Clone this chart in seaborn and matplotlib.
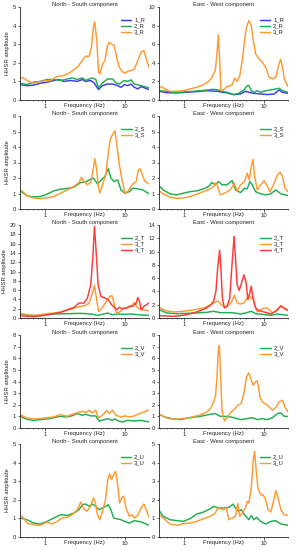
import matplotlib
matplotlib.use("Agg")
import matplotlib.pyplot as plt
import matplotlib.ticker as mticker
import seaborn as sns

# ---- Radial (R) ----
ns_r1_f = [0.483, 0.586, 0.712, 0.864, 1.05, 1.275, 1.475, 1.707, 2.073, 2.517, 2.912, 3.209, 3.712, 4.091, 4.642, 5.216, 6.033, 6.981, 8.076, 8.898, 9.809, 10.81, 11.91, 13.13, 14.47, 15.94, 17.57, 20.0]
ns_r1_a = [0.83, 0.77, 0.8, 0.9, 0.96, 1.05, 1.1, 1.0, 1.05, 1.0, 1.1, 1.0, 1.05, 0.92, 0.56, 0.77, 0.86, 0.86, 0.77, 0.68, 0.83, 0.77, 0.86, 0.68, 0.6, 0.72, 0.65, 0.56]
ns_r2_f = [0.483, 0.586, 0.712, 0.864, 1.05, 1.275, 1.549, 1.881, 2.176, 2.517, 2.912, 3.209, 3.537, 3.897, 4.295, 4.642, 5.216, 6.033, 6.981, 7.692, 8.477, 9.809, 10.81, 11.91, 13.13, 14.47, 15.94, 17.57, 20.0]
ns_r2_a = [0.9, 0.83, 0.96, 1.0, 1.1, 1.1, 1.05, 1.13, 1.19, 1.1, 1.19, 1.05, 1.13, 1.19, 1.1, 0.65, 0.92, 1.13, 1.13, 0.92, 0.86, 1.05, 1.0, 1.08, 0.86, 0.81, 0.77, 0.72, 0.65]
ns_r3_f = [0.483, 0.532, 0.586, 0.712, 0.864, 1.157, 1.405, 1.707, 2.073, 2.517, 2.912, 3.209, 3.537, 3.785, 4.012, 4.172, 4.422, 4.642, 4.825, 5.216, 5.583, 6.033, 6.334, 6.981, 7.328, 7.920, 8.477, 9.343, 10.0, 10.81, 11.91, 13.13, 14.47, 15.94, 17.23, 18.45, 20.0]
ns_r3_a = [1.19, 1.2, 1.05, 0.9, 1.0, 1.05, 1.26, 1.31, 1.5, 1.76, 2.12, 2.36, 2.34, 2.84, 3.92, 4.2, 3.2, 1.5, 1.4, 1.94, 2.12, 2.93, 3.1, 2.97, 2.93, 2.21, 1.76, 1.5, 1.44, 1.55, 1.58, 1.67, 2.12, 2.57, 2.66, 2.21, 1.76]

ew_r1_f = [0.483, 0.598, 0.800, 1.070, 1.433, 1.918, 2.566, 3.435, 4.172, 5.066, 5.861, 6.459, 7.471, 9.074, 11.02, 13.39, 15.48, 17.07, 20.0]
ew_r1_a = [0.94, 0.79, 0.76, 0.83, 0.9, 1.0, 0.94, 0.76, 0.58, 0.65, 0.94, 0.83, 0.72, 0.65, 0.58, 0.65, 1.08, 0.83, 0.72]
ew_r2_f = [0.483, 0.598, 0.726, 0.882, 1.070, 1.300, 1.579, 1.918, 2.328, 2.694, 2.969, 3.435, 4.172, 4.825, 5.583, 6.152, 6.459, 6.914, 7.471, 8.234, 9.074, 10.50, 12.15, 14.05, 15.48, 17.07, 20.0]
ew_r2_a = [1.0, 0.94, 0.83, 0.83, 0.9, 0.94, 1.0, 1.08, 1.15, 1.08, 0.94, 0.83, 0.58, 0.72, 1.08, 1.55, 1.55, 1.0, 0.83, 1.0, 0.83, 1.0, 1.08, 1.19, 1.26, 1.0, 0.83]
ew_r3_f = [0.483, 0.516, 0.569, 0.659, 0.800, 0.971, 1.180, 1.433, 1.740, 2.013, 2.218, 2.444, 2.566, 2.668, 2.774, 2.884, 3.057, 3.435, 3.973, 4.295, 4.597, 4.969, 5.318, 5.693, 6.033, 6.459, 6.914, 7.328, 7.844, 8.644, 9.526, 10.50, 11.57, 12.75, 14.05, 15.04, 16.10, 17.07, 17.92, 20.0]
ew_r3_a = [1.3, 1.44, 1.19, 0.94, 0.94, 1.0, 1.19, 1.37, 1.65, 1.98, 2.45, 3.17, 4.96, 7.0, 4.27, 1.0, 1.08, 1.44, 1.62, 2.37, 2.01, 2.63, 4.24, 6.4, 7.84, 8.55, 8.0, 6.4, 4.96, 4.42, 4.06, 3.52, 2.45, 2.27, 2.45, 3.52, 4.4, 3.52, 2.27, 1.44]

# ---- S ----
ns_s2_f = [0.483, 0.586, 0.712, 0.864, 1.05, 1.275, 1.549, 1.881, 2.284, 2.774, 3.209, 3.712, 4.012, 4.508, 4.969, 5.583, 6.152, 6.650, 7.328, 8.076, 8.898, 10.0, 11.35, 12.50, 14.47, 16.73, 20.0]
ns_s2_a = [1.19, 0.85, 0.78, 0.8, 0.96, 1.17, 1.28, 1.32, 1.41, 1.71, 1.75, 1.93, 1.99, 1.62, 1.84, 2.1, 2.6, 1.99, 1.77, 1.88, 1.23, 1.02, 1.12, 1.34, 1.3, 1.23, 0.98]
ns_s3_f = [0.483, 0.532, 0.586, 0.712, 0.864, 1.05, 1.275, 1.549, 1.881, 2.284, 2.642, 2.828, 3.057, 3.369, 3.712, 4.012, 4.172, 4.379, 4.597, 4.825, 5.216, 5.746, 6.152, 6.521, 6.981, 7.471, 7.920, 8.477, 9.074, 10.0, 10.81, 12.50, 13.78, 14.75, 15.64, 16.73, 17.92, 20.0]
ns_s3_a = [1.23, 1.08, 0.85, 0.71, 0.67, 0.72, 0.8, 1.02, 1.23, 1.45, 1.71, 2.05, 1.77, 1.56, 1.71, 2.64, 3.25, 2.64, 1.56, 1.02, 1.56, 2.21, 3.61, 4.48, 4.8, 5.05, 4.05, 2.86, 1.99, 1.02, 1.12, 1.62, 1.77, 2.53, 2.58, 2.1, 1.77, 1.62]

ew_s2_f = [0.483, 0.542, 0.659, 0.800, 0.971, 1.180, 1.433, 1.740, 2.013, 2.218, 2.444, 2.694, 2.969, 3.435, 3.973, 4.379, 5.066, 5.693, 6.152, 6.650, 7.117, 7.844, 9.074, 10.50, 12.15, 14.05, 16.26, 20.0]
ew_s2_a = [1.49, 1.23, 0.98, 0.91, 1.02, 1.12, 1.17, 1.3, 1.45, 1.71, 1.56, 1.77, 1.56, 1.56, 1.84, 1.23, 1.06, 1.34, 1.3, 1.77, 1.56, 1.12, 0.98, 0.91, 0.98, 1.23, 0.98, 0.87]
ew_s3_f = [0.483, 0.542, 0.659, 0.800, 0.971, 1.180, 1.433, 1.740, 2.113, 2.328, 2.517, 2.828, 3.272, 3.785, 4.253, 4.597, 5.066, 5.693, 6.152, 6.521, 6.914, 7.258, 7.618, 8.234, 9.074, 10.0, 10.81, 11.91, 13.13, 14.75, 15.94, 17.07, 18.27, 20.0]
ew_s3_a = [1.17, 0.98, 0.76, 0.69, 0.71, 0.8, 0.96, 1.12, 1.3, 1.45, 1.71, 0.91, 1.05, 1.25, 1.66, 1.15, 1.56, 1.77, 2.32, 1.88, 2.75, 3.2, 2.1, 1.23, 1.56, 1.82, 1.56, 1.12, 1.56, 2.21, 2.38, 2.1, 1.34, 1.12]

# ---- T ----
ns_t2_f = [0.483, 0.646, 0.864, 1.275, 1.881, 2.774, 3.712, 4.508, 4.969, 6.033, 6.981, 8.076, 9.809, 11.91, 14.47, 20.0]
ns_t2_a = [0.93, 0.57, 0.57, 0.86, 0.93, 1.0, 0.86, 0.57, 0.71, 1.07, 0.71, 0.86, 0.79, 0.86, 0.71, 0.57]
ns_t3_f = [0.483, 0.586, 0.712, 0.864, 1.05, 1.275, 1.549, 1.881, 2.284, 2.774, 3.209, 3.537, 3.897, 4.131, 4.379, 4.642, 4.969, 5.476, 6.033, 6.521, 6.846, 7.187, 7.692, 8.234, 8.898, 9.809, 10.81, 11.91, 13.13, 14.47, 15.94, 20.0]
ns_t3_a = [1.07, 0.57, 0.57, 0.71, 0.93, 1.07, 1.29, 1.64, 2.14, 2.5, 2.71, 3.21, 5.36, 7.0, 4.29, 1.43, 1.79, 2.86, 4.0, 4.7, 4.8, 3.57, 1.29, 1.07, 1.57, 2.14, 2.14, 2.64, 3.3, 2.2, 1.79, 1.57]
ns_t4_f = [0.483, 0.586, 0.712, 0.864, 1.05, 1.275, 1.549, 1.881, 2.284, 2.642, 3.057, 3.369, 3.712, 3.935, 4.131, 4.337, 4.597, 4.969, 5.583, 6.152, 6.780, 7.328, 7.920, 8.477, 9.343, 10.30, 11.35, 12.50, 13.78, 14.47, 15.19, 15.94, 17.23, 20.0]
ns_t4_a = [0.5, 0.36, 0.29, 0.43, 0.71, 0.93, 1.21, 1.79, 2.29, 3.21, 3.21, 4.29, 7.14, 12.86, 19.7, 14.3, 7.14, 4.64, 4.29, 3.93, 2.86, 2.29, 1.79, 2.29, 2.0, 2.14, 2.5, 2.5, 3.21, 4.43, 3.57, 1.79, 2.5, 3.21]

ew_t2_f = [0.483, 0.598, 0.800, 1.070, 1.433, 1.918, 2.328, 2.828, 3.606, 4.253, 5.066, 5.861, 6.914, 7.844, 9.526, 12.15, 14.75, 17.07, 20.0]
ew_t2_a = [1.26, 0.76, 0.65, 0.7, 0.76, 0.86, 1.01, 0.81, 0.81, 0.76, 0.6, 0.76, 1.01, 0.65, 0.55, 0.4, 0.6, 0.5, 0.4]
ew_t3_f = [0.483, 0.569, 0.726, 0.971, 1.300, 1.740, 2.113, 2.444, 2.694, 2.884, 3.272, 3.606, 3.973, 4.253, 4.597, 5.066, 5.583, 6.152, 6.459, 6.914, 7.328, 7.618, 8.234, 9.526, 11.02, 12.75, 14.75, 16.26, 17.92, 20.0]
ew_t3_a = [1.61, 1.11, 0.91, 1.01, 1.21, 1.51, 1.91, 2.42, 2.52, 2.01, 1.61, 1.91, 2.62, 3.4, 2.27, 2.11, 2.27, 3.02, 3.37, 2.92, 3.2, 2.01, 0.91, 1.41, 1.51, 0.76, 1.26, 1.91, 1.41, 1.11]
ew_t4_f = [0.483, 0.598, 0.726, 0.882, 1.070, 1.300, 1.579, 1.826, 2.113, 2.328, 2.492, 2.616, 2.774, 2.884, 2.998, 3.178, 3.435, 3.712, 3.935, 4.212, 4.379, 4.597, 4.873, 5.216, 5.583, 5.916, 6.273, 6.650, 6.914, 7.258, 7.844, 8.644, 10.0, 12.15, 14.05, 16.26, 17.92, 20.0]
ew_t4_a = [0.35, 0.3, 0.25, 0.35, 0.5, 0.76, 1.11, 1.41, 1.91, 2.52, 4.03, 7.55, 10.2, 7.05, 3.02, 1.51, 1.76, 3.02, 7.55, 12.3, 9.06, 5.04, 4.13, 5.29, 6.5, 5.54, 2.77, 3.78, 4.8, 3.02, 1.51, 1.11, 0.91, 0.6, 1.01, 1.76, 1.51, 1.16]

# ---- V ----
ns_v2_f = [0.483, 0.586, 0.712, 0.864, 1.05, 1.275, 1.549, 1.881, 2.176, 2.517, 2.912, 3.209, 3.712, 4.295, 4.732, 5.476, 6.152, 6.780, 7.471, 8.234, 9.343, 10.81, 13.13, 15.94, 20.0]
ns_v2_a = [1.0, 0.75, 0.66, 0.72, 0.78, 0.89, 1.0, 0.95, 1.06, 1.24, 1.09, 1.18, 1.04, 1.04, 0.6, 0.72, 0.81, 0.66, 0.78, 0.6, 0.52, 0.66, 0.6, 0.66, 0.52]
ns_v3_f = [0.483, 0.532, 0.586, 0.712, 0.864, 1.05, 1.275, 1.549, 1.881, 2.176, 2.517, 2.912, 3.209, 3.537, 3.897, 4.295, 4.597, 4.969, 5.476, 5.916, 6.334, 6.981, 7.692, 8.898, 10.0, 11.35, 13.13, 15.19, 17.57, 20.0]
ns_v3_a = [1.15, 1.0, 0.86, 0.78, 0.81, 0.89, 0.95, 1.15, 1.0, 1.18, 1.32, 1.44, 1.32, 1.53, 1.29, 1.53, 0.89, 1.0, 1.24, 1.53, 1.24, 1.53, 1.09, 0.95, 1.04, 0.95, 1.04, 1.24, 1.38, 1.58]

ew_v2_f = [0.483, 0.569, 0.691, 0.882, 1.180, 1.579, 2.113, 2.444, 2.828, 3.435, 4.172, 5.066, 6.152, 7.117, 8.234, 9.526, 11.02, 12.75, 14.75, 16.26, 17.92, 20.0]
ew_v2_a = [1.18, 0.95, 0.81, 0.72, 0.89, 1.0, 1.18, 1.24, 1.0, 1.0, 0.89, 0.72, 0.81, 0.89, 0.72, 0.81, 0.72, 0.89, 1.24, 1.29, 1.0, 1.0]
ew_v3_f = [0.483, 0.542, 0.627, 0.800, 1.070, 1.365, 1.658, 1.918, 2.154, 2.328, 2.468, 2.566, 2.668, 2.747, 2.828, 2.969, 3.178, 3.435, 3.859, 4.253, 4.687, 5.166, 5.583, 6.033, 6.396, 6.914, 7.328, 7.844, 8.234, 8.898, 9.526, 11.02, 12.75, 14.05, 15.48, 17.07, 18.27, 20.0]
ew_v3_a = [1.18, 1.0, 0.81, 0.75, 0.86, 1.0, 1.18, 1.38, 1.73, 2.24, 2.82, 4.4, 6.7, 7.1, 4.98, 1.53, 0.6, 0.89, 1.38, 1.61, 1.96, 2.1, 2.96, 4.4, 4.75, 4.12, 3.68, 3.97, 4.06, 2.68, 2.24, 1.96, 1.53, 1.76, 2.24, 2.39, 1.81, 1.38]

# ---- U ----
ns_u2_f = [0.483, 0.586, 0.712, 0.864, 1.05, 1.275, 1.549, 1.881, 2.284, 2.642, 2.912, 3.209, 3.537, 3.897, 4.295, 4.732, 5.216, 5.746, 6.152, 6.650, 7.187, 8.076, 8.898, 9.809, 11.35, 13.13, 15.94, 20.0]
ns_u2_a = [1.02, 0.93, 0.75, 0.7, 0.84, 1.02, 1.2, 1.16, 1.29, 1.47, 1.74, 1.77, 1.65, 1.77, 1.65, 1.47, 1.56, 1.65, 1.74, 1.47, 1.02, 0.97, 0.93, 0.84, 0.75, 0.88, 0.81, 0.63]
ns_u3_f = [0.483, 0.532, 0.586, 0.712, 0.864, 1.05, 1.21, 1.405, 1.626, 1.881, 2.176, 2.517, 2.774, 2.998, 3.304, 3.641, 4.012, 4.253, 4.508, 4.825, 5.216, 5.638, 6.033, 6.396, 6.780, 7.187, 7.618, 8.076, 8.560, 9.163, 9.619, 10.30, 11.35, 12.15, 13.13, 14.47, 15.94, 17.23, 18.45, 20.0]
ns_u3_a = [1.16, 1.02, 0.75, 0.66, 0.63, 0.81, 0.7, 0.84, 1.02, 1.06, 1.2, 1.47, 1.88, 1.56, 1.38, 1.59, 2.1, 1.83, 1.2, 0.93, 1.38, 1.92, 2.99, 3.4, 3.08, 3.35, 3.53, 2.81, 1.83, 2.13, 2.19, 1.56, 1.11, 1.2, 1.02, 1.16, 1.56, 1.77, 1.47, 1.06]

ew_u2_f = [0.483, 0.542, 0.659, 0.800, 0.971, 1.180, 1.433, 1.740, 2.113, 2.328, 2.694, 3.117, 3.606, 4.091, 4.379, 4.825, 5.166, 5.693, 6.459, 6.914, 7.471, 8.076, 9.074, 10.50, 12.15, 14.05, 16.26, 20.0]
ew_u2_a = [1.42, 1.11, 0.93, 0.88, 0.84, 0.99, 1.24, 1.34, 1.52, 1.65, 1.56, 1.56, 1.59, 1.77, 1.56, 1.38, 1.47, 1.2, 0.93, 1.16, 0.93, 1.06, 0.84, 0.7, 0.84, 0.88, 0.7, 0.63]
ew_u3_f = [0.483, 0.542, 0.659, 0.800, 0.971, 1.180, 1.433, 1.740, 2.113, 2.444, 2.616, 2.828, 3.117, 3.369, 3.606, 3.973, 4.379, 4.687, 4.969, 5.318, 5.861, 6.152, 6.459, 6.914, 7.328, 7.618, 7.999, 8.396, 9.074, 9.809, 10.50, 11.24, 12.15, 13.13, 14.05, 15.04, 16.26, 17.92, 20.0]
ew_u3_a = [1.2, 1.02, 0.7, 0.63, 0.72, 0.75, 0.84, 0.99, 1.11, 1.29, 1.56, 1.52, 1.47, 1.56, 0.93, 1.02, 1.11, 1.8, 1.11, 1.29, 1.56, 1.92, 1.83, 2.63, 4.16, 4.6, 3.51, 2.63, 2.28, 2.24, 2.01, 1.47, 1.34, 1.92, 2.5, 2.1, 1.47, 1.2, 1.16]

BLUE = '#3a3af2'
GREEN = '#1fae50'
ORANGE = '#ff9a30'
RED = '#ff3838'

# (title, ymax, ystep, [(label, freqs, amps, color), ...])
panels = [
    [("North - South component", 5, 1, [("1_R", ns_r1_f, ns_r1_a, BLUE), ("2_R", ns_r2_f, ns_r2_a, GREEN), ("3_R", ns_r3_f, ns_r3_a, ORANGE)]),
     ("East - West component", 10, 2, [("1_R", ew_r1_f, ew_r1_a, BLUE), ("2_R", ew_r2_f, ew_r2_a, GREEN), ("3_R", ew_r3_f, ew_r3_a, ORANGE)])],
    [("North - South component", 6, 1, [("2_S", ns_s2_f, ns_s2_a, GREEN), ("3_S", ns_s3_f, ns_s3_a, ORANGE)]),
     ("East - West component", 6, 1, [("2_S", ew_s2_f, ew_s2_a, GREEN), ("3_S", ew_s3_f, ew_s3_a, ORANGE)])],
    [("North - South component", 20, 2, [("2_T", ns_t2_f, ns_t2_a, GREEN), ("3_T", ns_t3_f, ns_t3_a, ORANGE), ("4_T", ns_t4_f, ns_t4_a, RED)]),
     ("East - West component", 14, 2, [("2_T", ew_t2_f, ew_t2_a, GREEN), ("3_T", ew_t3_f, ew_t3_a, ORANGE), ("4_T", ew_t4_f, ew_t4_a, RED)])],
    [("North - South component", 8, 1, [("2_V", ns_v2_f, ns_v2_a, GREEN), ("3_V", ns_v3_f, ns_v3_a, ORANGE)]),
     ("East - West component", 8, 1, [("2_V", ew_v2_f, ew_v2_a, GREEN), ("3_V", ew_v3_f, ew_v3_a, ORANGE)])],
    [("North - South component", 5, 1, [("2_U", ns_u2_f, ns_u2_a, GREEN), ("3_U", ns_u3_f, ns_u3_a, ORANGE)]),
     ("East - West component", 5, 1, [("2_U", ew_u2_f, ew_u2_a, GREEN), ("3_U", ew_u3_f, ew_u3_a, ORANGE)])],
]

sns.set_style("ticks")
plt.rcParams['font.family'] = ['Liberation Sans', 'DejaVu Sans']
FS = 4.2

fig = plt.figure(figsize=(2.96, 5.5), dpi=100)
row_tops = [7, 116, 225, 335, 444]
col_lefts = [20, 159]
ax_w, ax_h = 129, 93

for r, row in enumerate(panels):
    for c, (title, ymax, ystep, curves) in enumerate(row):
        ax = fig.add_axes([col_lefts[c] / 296, 1 - (row_tops[r] + ax_h) / 550, ax_w / 296, ax_h / 550])
        for label, f, a, color in curves:
            sns.lineplot(x=f, y=a, ax=ax, color=color, lw=1.05, label=label, sort=False)
        ax.set_xscale('log')
        ax.set_xlim(0.48, 20)
        ax.set_ylim(0, ymax)
        ax.yaxis.set_major_locator(mticker.MultipleLocator(ystep))
        ax.xaxis.set_major_locator(mticker.FixedLocator([1, 10]))
        ax.xaxis.set_major_formatter(mticker.FuncFormatter(lambda v, p: f"{v:g}"))
        ax.xaxis.set_minor_locator(mticker.LogLocator(subs=range(2, 10)))
        ax.xaxis.set_minor_formatter(mticker.NullFormatter())
        ax.tick_params(labelsize=FS, length=1.8, width=0.5, pad=1)
        ax.tick_params(which='minor', length=1.0, width=0.4)
        for s in ['top', 'right']:
            ax.spines[s].set_visible(False)
        for s in ['left', 'bottom']:
            ax.spines[s].set_linewidth(0.6)
        ax.set_title(title, fontsize=FS, pad=0.5)
        ax.set_xlabel("Frequency (Hz)", fontsize=FS)
        ax.xaxis.set_label_coords(0.5, -0.035)
        if c == 0:
            ax.set_ylabel("HHSR amplitude", fontsize=FS, labelpad=2)
        else:
            ax.set_ylabel("")
        ax.legend(loc='upper right', bbox_to_anchor=(1.0, 0.93), frameon=False, fontsize=FS,
                  handlelength=1.8, handletextpad=0.5, labelspacing=0.15, borderpad=0.2)

fig.savefig("out.png", dpi=100)
